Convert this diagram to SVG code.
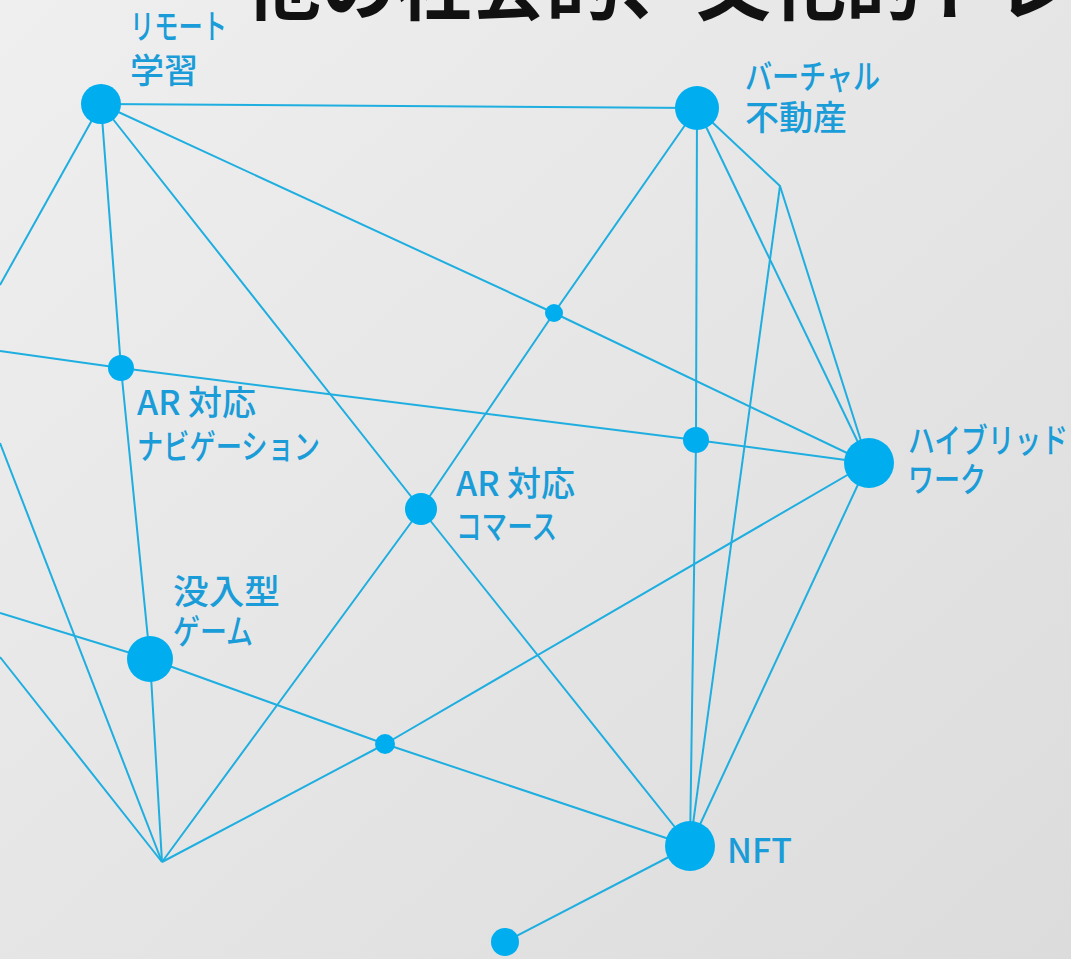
<svg xmlns="http://www.w3.org/2000/svg" width="1071" height="959" viewBox="0 0 1071 959">
<defs>
<linearGradient id="bg" x1="0" y1="0" x2="1" y2="1">
<stop offset="0" stop-color="#efefef"/>
<stop offset="1" stop-color="#dcdcdc"/>
</linearGradient>
</defs>
<style>
.ln{fill:none;stroke:#1eaee0;stroke-width:2;stroke-linejoin:round}
.nd{fill:#00aeef}
.lb{font-family:"Noto Sans CJK JP","Noto Sans",sans-serif;font-size:34px;font-weight:500;fill:#1a9cd8}
.tt{font-family:"Noto Sans CJK JP",sans-serif;font-size:75px;font-weight:bold;fill:#111}
</style>
<rect width="1071" height="959" fill="url(#bg)"/>
<text class="tt" x="246" y="14">他の社会的、文化的トレ</text>
<g id="connectors">
<polyline class="ln" points="101,104 697,108"/>
<polyline class="ln" points="101,104 0,285"/>
<polyline class="ln" points="101,104 121,368 150,659 162,862"/>
<polyline class="ln" points="101,104 554,313 868,463"/>
<polyline class="ln" points="101,104 421,509 690,846"/>
<polyline class="ln" points="697,108 554,313 421,509 162,862"/>
<polyline class="ln" points="697,108 696,440 690,846"/>
<polyline class="ln" points="697,108 868,463"/>
<polyline class="ln" points="697,108 780,186 868,463"/>
<polyline class="ln" points="780,186 690,846"/>
<polyline class="ln" points="0,351 121,368 696,440 868,463"/>
<polyline class="ln" points="0,613 150,659 385,744 690,846"/>
<polyline class="ln" points="868,463 385,744 162,862"/>
<polyline class="ln" points="868,463 690,846"/>
<polyline class="ln" points="690,846 505,942"/>
<polyline class="ln" points="0,443 162,862"/>
<polyline class="ln" points="0,657 162,862"/>
</g>
<g id="n-remote"><circle class="nd" cx="101" cy="104" r="20"/><text class="lb" x="130" y="39" textLength="97" lengthAdjust="spacingAndGlyphs">リモート</text><text class="lb" x="130" y="83">学習</text></g>
<g id="n-virtual"><circle class="nd" cx="697" cy="108" r="22"/><text class="lb" x="745" y="89" textLength="135" lengthAdjust="spacingAndGlyphs">バーチャル</text><text class="lb" x="745" y="130">不動産</text></g>
<g id="n-hybrid"><circle class="nd" cx="869" cy="463" r="25"/><text class="lb" x="908" y="453" textLength="160" lengthAdjust="spacingAndGlyphs">ハイブリッド</text><text class="lb" x="908" y="492" textLength="78" lengthAdjust="spacingAndGlyphs">ワーク</text></g>
<g id="n-nft"><circle class="nd" cx="690" cy="846" r="25"/><text class="lb" x="727" y="863">NFT</text></g>
<g id="n-game"><circle class="nd" cx="150" cy="659" r="23"/><text class="lb" x="173" y="604" textLength="107" lengthAdjust="spacingAndGlyphs">没入型</text><text class="lb" x="173" y="644" textLength="80" lengthAdjust="spacingAndGlyphs">ゲーム</text></g>
<g id="n-nav"><circle class="nd" cx="121" cy="368" r="13"/><text class="lb" x="137" y="415">AR 対応</text><text class="lb" x="137" y="459" textLength="183" lengthAdjust="spacingAndGlyphs">ナビゲーション</text></g>
<g id="n-commerce"><circle class="nd" cx="421" cy="509" r="16"/><text class="lb" x="456" y="496">AR 対応</text><text class="lb" x="456" y="539" textLength="101" lengthAdjust="spacingAndGlyphs">コマース</text></g>
<g id="d1"><circle class="nd" cx="554" cy="313" r="9"/></g>
<g id="d2"><circle class="nd" cx="696" cy="440" r="13"/></g>
<g id="d3"><circle class="nd" cx="385" cy="744" r="10"/></g>
<g id="d4"><circle class="nd" cx="505" cy="942" r="14"/></g>
</svg>
